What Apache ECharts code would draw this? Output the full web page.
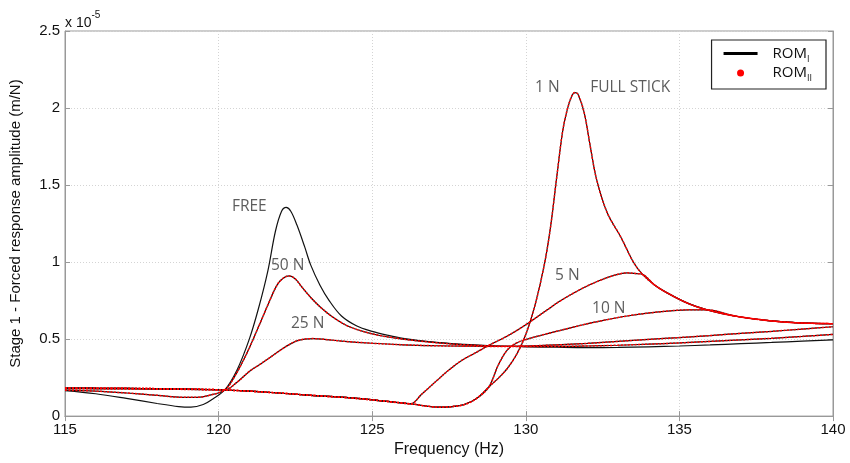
<!DOCTYPE html>
<html>
<head>
<meta charset="utf-8">
<script src="https://cdn.jsdelivr.net/npm/echarts@6/dist/echarts.min.js"></script>
<style>
  html, body { margin: 0; padding: 0; background: #fff; }
  #chart { width: 850px; height: 463px; }
</style>
</head>
<body>
<div id="chart"></div>
<script>
// amplitudes are in units of 1e-5 m/N, frequencies in Hz

// free system (ROM I only)
const freeCurve = [
  [115, 0.165], [116, 0.145], [117, 0.115], [118, 0.082], [118.7, 0.062], [119.1, 0.058],
  [119.5, 0.075], [119.8, 0.11], [120.2, 0.17], [120.6, 0.3], [121, 0.5], [121.3, 0.7],
  [121.6, 0.94], [121.85, 1.2], [122.05, 1.33], [122.2, 1.355], [122.35, 1.33], [122.55, 1.24],
  [122.8, 1.1], [123, 0.98], [123.3, 0.85], [123.6, 0.75], [124, 0.65], [124.5, 0.585],
  [125, 0.55], [125.5, 0.525], [126, 0.505], [127, 0.48], [128, 0.465], [129, 0.455],
  [130, 0.45], [131, 0.447], [132, 0.445], [133, 0.446], [134, 0.45], [135, 0.455],
  [136, 0.462], [137, 0.47], [138, 0.478], [139, 0.487], [140, 0.495]
];

const curve50N = [
  [115, 0.168], [116, 0.162], [117, 0.15], [118, 0.135], [118.8, 0.122], [119.3, 0.122],
  [119.7, 0.135], [120.2, 0.17], [120.5, 0.25], [120.9, 0.4], [121.3, 0.58], [121.6, 0.72],
  [121.9, 0.85], [122.1, 0.895], [122.3, 0.91], [122.5, 0.89], [122.7, 0.84], [123, 0.77],
  [123.3, 0.71], [123.7, 0.645], [124.2, 0.585], [124.7, 0.55], [125.2, 0.525], [126, 0.5],
  [127, 0.478], [128, 0.463], [129, 0.455], [130, 0.452], [131, 0.452], [132, 0.455],
  [133, 0.46], [134, 0.467], [135, 0.475], [136, 0.485], [137, 0.495], [138, 0.505],
  [139, 0.517], [140, 0.53]
];

const curve25N = [
  [115, 0.178], [116, 0.177], [117, 0.176], [118, 0.175], [119, 0.173], [120.2, 0.17],
  [120.6, 0.22], [121, 0.29], [121.3, 0.33], [121.6, 0.37], [122.1, 0.44], [122.5, 0.485],
  [122.8, 0.5], [123.1, 0.503], [123.5, 0.497], [124, 0.487], [125, 0.473], [126, 0.463],
  [127, 0.457], [128, 0.454], [129, 0.452], [130, 0.455], [131, 0.462], [132, 0.472],
  [133, 0.485], [134, 0.498], [135, 0.51], [136, 0.523], [137, 0.537], [138, 0.55],
  [139, 0.565], [140, 0.58]
];

// full stick, also the 1 N response
const stickCurve = [
  [115, 0.182], [116, 0.181], [117, 0.18], [118, 0.178], [119, 0.175], [120, 0.171],
  [121, 0.162], [121.6, 0.155], [123, 0.135], [124.5, 0.115], [125.5, 0.095], [126.25, 0.08],
  [126.8, 0.064], [127.2, 0.058], [127.6, 0.062], [128, 0.075], [128.4, 0.115], [128.8, 0.19],
  [129.1, 0.245], [129.4, 0.31], [129.7, 0.4], [130, 0.53], [130.3, 0.72], [130.6, 0.98],
  [130.8, 1.22], [131, 1.54], [131.2, 1.85], [131.35, 1.99], [131.5, 2.08], [131.6, 2.1],
  [131.7, 2.09], [131.9, 1.97], [132.1, 1.75], [132.3, 1.54], [132.65, 1.32], [133.1, 1.16],
  [133.5, 1.0], [133.8, 0.92], [134.2, 0.85], [134.6, 0.8], [135.3, 0.73], [135.9, 0.69],
  [136.8, 0.65], [137.9, 0.62], [138.9, 0.605], [140, 0.6]
];

// slip branches leaving and rejoining the stick curve
const branch5N = [
  [126.6, 0.14], [127.1, 0.23], [127.5, 0.3], [127.9, 0.36], [128.4, 0.415], [128.8, 0.46],
  [129.4, 0.52], [130.05, 0.6], [130.7, 0.69], [131.1, 0.745], [131.8, 0.825], [132.4, 0.88],
  [132.9, 0.915], [133.3, 0.93], [133.6, 0.925]
];
const branch10N = [
  [129.1, 0.33], [129.4, 0.43], [129.7, 0.475], [130.05, 0.5], [130.6, 0.53], [131.1, 0.555],
  [131.8, 0.59], [132.2, 0.608], [133.3, 0.65], [134.4, 0.678], [135.3, 0.69]
];

const noteLabels = [
  { text: 'FREE', at: [121.0, 1.36] },
  { text: '50 N', at: [122.25, 0.98] },
  { text: '25 N', at: [122.9, 0.6] },
  { text: '1 N', at: [130.7, 2.13] },
  { text: 'FULL STICK', at: [133.4, 2.135] },
  { text: '5 N', at: [131.35, 0.91] },
  { text: '10 N', at: [132.7, 0.695] }
];

const xTicks = [115, 120, 125, 130, 135, 140];
const yTicks = [0, 0.5, 1, 1.5, 2, 2.5];

function withBranch(branch, from, to) {
  const before = stickCurve.filter(p => p[0] <= from);
  const after = stickCurve.filter(p => p[0] >= to);
  return before.concat(branch, after);
}

const curve5N = withBranch(branch5N, 126.25, 133.8);
const curve10N = withBranch(branch10N, 128.8, 135.9);

const chart = echarts.init(document.getElementById('chart'));

const blackLine = (data) => ({
  name: 'ROM_I',
  type: 'line',
  data: data,
  symbol: 'none',
  smooth: 0.35,
  lineStyle: { color: '#111', width: 1.2 },
  itemStyle: { color: '#111' },
  z: 2
});
const redDots = (data) => ({
  name: 'ROM_II',
  type: 'line',
  data: data,
  symbol: 'none',
  smooth: 0.35,
  lineStyle: { color: '#ff0000', width: 1.5, type: [2, 1.5] },
  itemStyle: { color: '#ff0000' },
  z: 3
});

const series = [
  blackLine(freeCurve),
  blackLine(curve50N), blackLine(curve25N), blackLine(curve10N), blackLine(curve5N), blackLine(stickCurve),
  redDots(curve50N), redDots(curve25N), redDots(curve10N), redDots(curve5N), redDots(stickCurve),
  {
    name: 'notes',
    type: 'scatter',
    symbolSize: 0,
    silent: true,
    data: noteLabels.map(n => ({ value: n.at, label: { formatter: n.text } })),
    label: {
      show: true,
      position: 'inside',
      color: '#333',
      fontFamily: 'Open Sans',
      fontSize: 15.5
    },
    z: 5
  }
];

const tickFont = { fontFamily: 'Liberation Sans', fontSize: 15, color: '#111' };

const option = {
  animation: false,
  backgroundColor: '#fff',
  title: {
    text: '{a|x 10}{b|-5}',
    left: 60,
    top: 5,
    textStyle: {
      rich: {
        a: { fontFamily: 'Liberation Sans', fontSize: 14, fontWeight: 'normal', color: '#111', lineHeight: 20, verticalAlign: 'bottom' },
        b: { fontFamily: 'Liberation Sans', fontSize: 10, fontWeight: 'normal', color: '#111', lineHeight: 20, verticalAlign: 'top' }
      }
    }
  },
  legend: {
    data: [
      { name: 'ROM_I', icon: 'path://M0,0H34V3H0Z', itemStyle: { color: '#000' } },
      { name: 'ROM_II', icon: 'circle' }
    ],
    orient: 'vertical',
    right: 24,
    top: 40,
    padding: [6, 14, 6, 12],
    itemGap: 2,
    itemWidth: 34,
    itemHeight: 7,
    backgroundColor: '#fff',
    borderColor: '#222',
    borderWidth: 1.2,
    formatter: name => name === 'ROM_I' ? '{m|ROM}{s|I}' : '{m|ROM}{s|II}',
    textStyle: {
      padding: [0, 0, 0, 10],
      rich: {
        m: { fontFamily: 'Open Sans', fontSize: 15, color: '#111', lineHeight: 20 },
        s: { fontFamily: 'Open Sans', fontSize: 9, color: '#111', lineHeight: 20, verticalAlign: 'bottom' }
      }
    }
  },
  grid: {
    left: 65, right: 17, top: 31, bottom: 44,
    show: true, borderColor: '#999', borderWidth: 1
  },
  xAxis: [
    {
      type: 'value',
      min: xTicks[0], max: xTicks[xTicks.length - 1], interval: 5,
      name: 'Frequency (Hz)',
      nameLocation: 'middle',
      nameGap: 25,
      nameTextStyle: { fontFamily: 'Liberation Sans', fontSize: 16, color: '#111' },
      axisLine: { lineStyle: { color: '#999' } },
      axisTick: { inside: true, length: 5, lineStyle: { color: '#999' } },
      axisLabel: Object.assign({ margin: 6 }, tickFont),
      splitLine: { show: true, lineStyle: { color: '#d4d4d4', type: [1, 2] } }
    },
    {
      type: 'value', position: 'top',
      min: xTicks[0], max: xTicks[xTicks.length - 1], interval: 5,
      axisLine: { lineStyle: { color: '#999' } },
      axisTick: { inside: true, length: 5, lineStyle: { color: '#999' } },
      axisLabel: { show: false },
      splitLine: { show: false }
    }
  ],
  yAxis: [
    {
      type: 'value',
      min: yTicks[0], max: yTicks[yTicks.length - 1], interval: 0.5,
      name: 'Stage 1 - Forced response amplitude (m/N)',
      nameLocation: 'middle',
      nameGap: 42,
      nameTextStyle: { fontFamily: 'Liberation Sans', fontSize: 15, color: '#111' },
      axisLine: { show: true, lineStyle: { color: '#999' } },
      axisTick: { show: true, inside: true, length: 5, lineStyle: { color: '#999' } },
      axisLabel: Object.assign({ margin: 5, formatter: v => String(v) }, tickFont),
      splitLine: { show: true, lineStyle: { color: '#d4d4d4', type: [1, 2] } }
    },
    {
      type: 'value', position: 'right',
      min: yTicks[0], max: yTicks[yTicks.length - 1], interval: 0.5,
      axisLine: { show: true, lineStyle: { color: '#999' } },
      axisTick: { show: true, inside: true, length: 5, lineStyle: { color: '#999' } },
      axisLabel: { show: false },
      splitLine: { show: false }
    }
  ],
  series: series
};

chart.setOption(option);
</script>
</body>
</html>
